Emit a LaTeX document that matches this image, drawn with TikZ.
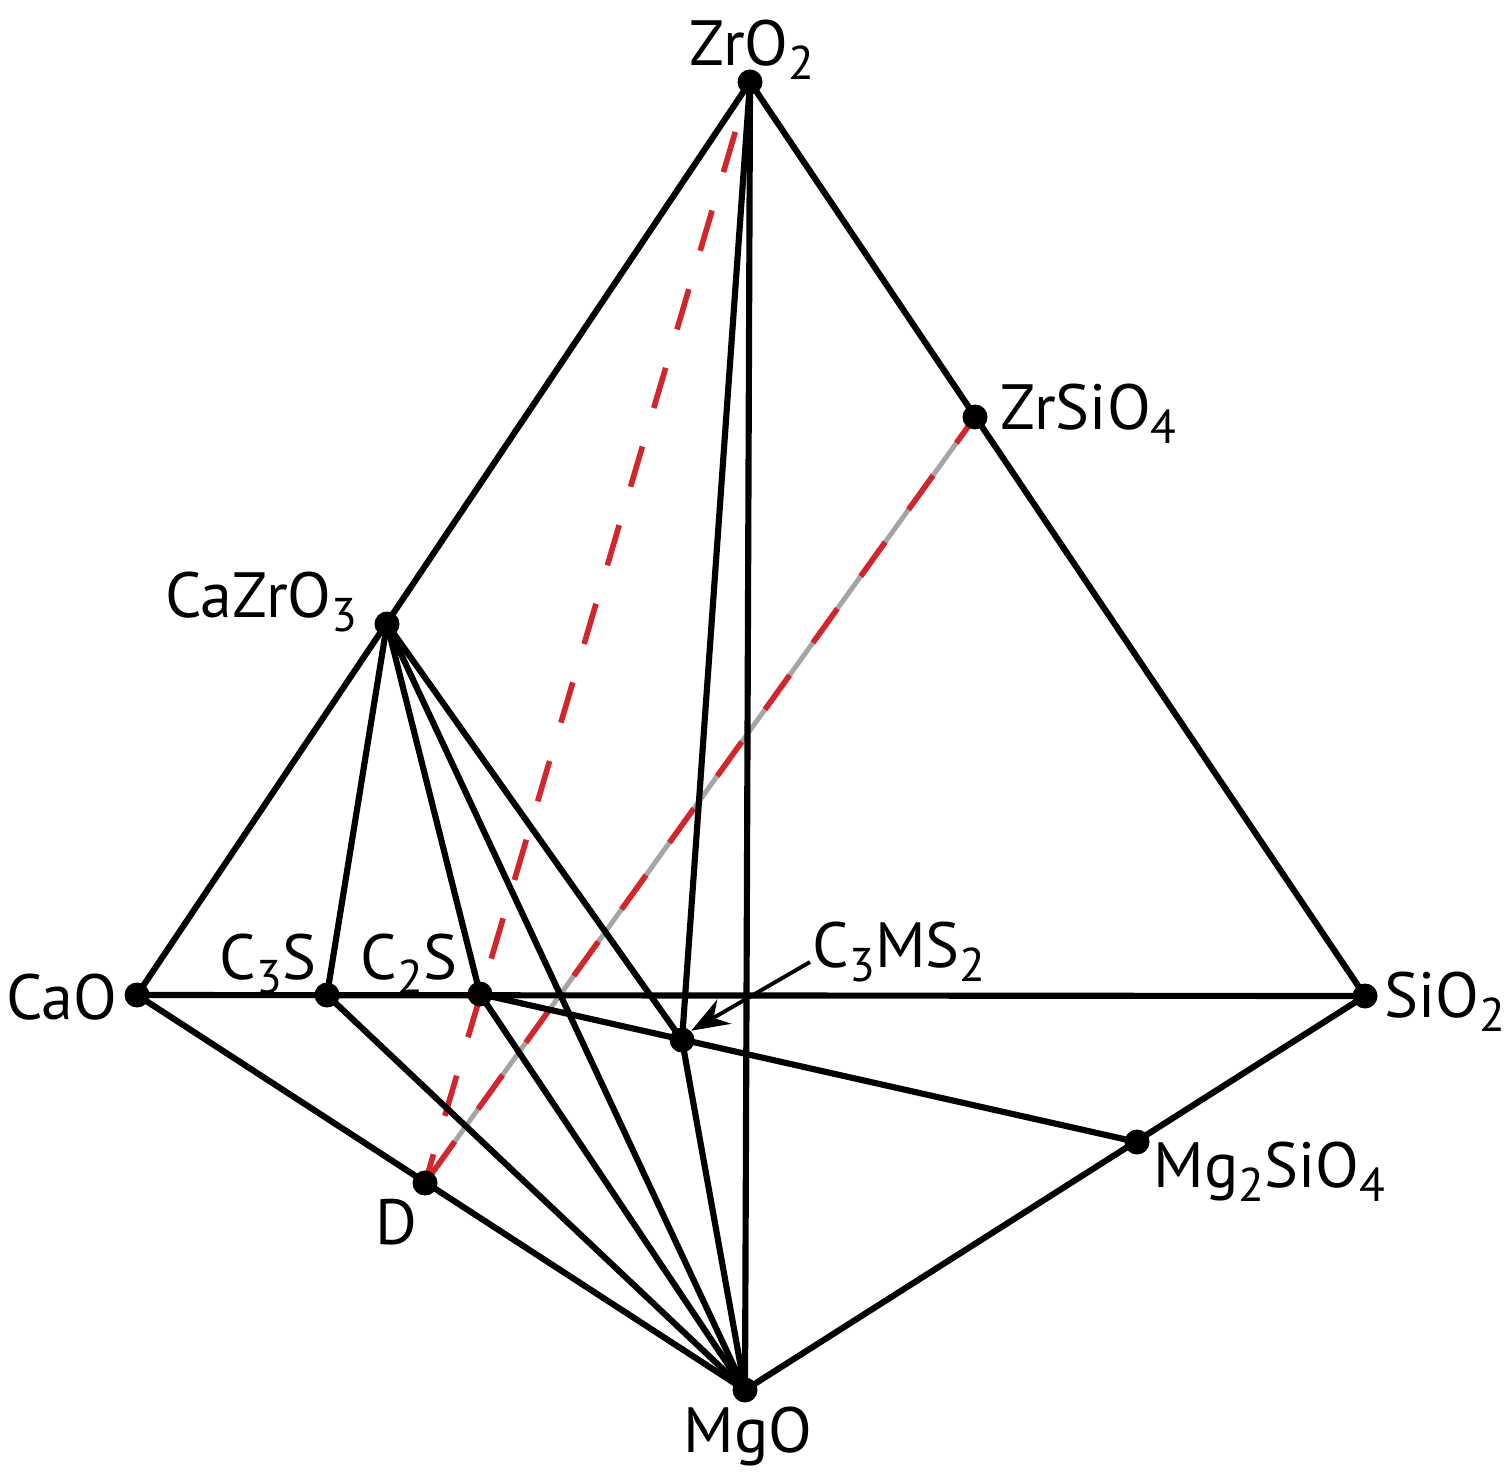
\documentclass[tikz,border=0pt]{standalone}
\usepackage{fontspec}
\setmainfont{PT Sans}
\usetikzlibrary{arrows.meta}
\definecolor{dred}{RGB}{211,38,44}
\definecolor{lgray}{RGB}{165,165,165}
\newcommand\sbs[1]{\raisebox{-0.45ex}{\scalebox{0.74}{#1}}}
\tikzset{
  edge/.style={line width=1.75pt, black},
  dot/.style={circle, fill=black, inner sep=0pt, minimum size=0.25cm},
  lbl/.style={font=\fontsize{18.2}{22}\selectfont, inner sep=0pt},
  reddash/.style={line width=1.6pt, dred, dash pattern=on 0.42cm off 0.4cm},
  graybase/.style={line width=1.4pt, lgray},
}
\begin{document}
\begin{tikzpicture}
\useasboundingbox (0,0) rectangle (15.08,14.80);
\coordinate (ZrO2) at (7.50,13.98);
\coordinate (ZrSiO4) at (9.75,10.63);
\coordinate (CaZrO3) at (3.87,8.56);
\coordinate (CaO) at (1.37,4.85);
\coordinate (C3S) at (3.27,4.85);
\coordinate (C2S) at (4.80,4.86);
\coordinate (C3MS2) at (6.82,4.40);
\coordinate (SiO2) at (13.65,4.84);
\coordinate (Mg2SiO4) at (11.37,3.38);
\coordinate (D) at (4.25,2.97);
\coordinate (MgO) at (7.45,0.90);

% dashed lines (behind)
\draw[graybase] (ZrSiO4) -- (D);
\draw[reddash, dash phase=0.1cm] (ZrSiO4) -- (D);
\draw[reddash, dash phase=0.3cm] (ZrO2) -- (D);

% solid lines
\draw[edge, line join=round] (CaO) -- (ZrO2) -- (SiO2) -- (CaO);
\draw[edge, line join=round] (CaO) -- (MgO) -- (SiO2);
\draw[edge] (ZrO2) -- (MgO);
\draw[edge] (ZrO2) -- (C3MS2) -- (MgO);
\draw[edge] (CaZrO3) -- (C3S);
\draw[edge] (CaZrO3) -- (C2S);
\draw[edge] (CaZrO3) -- (MgO);
\draw[edge] (CaZrO3) -- (C3MS2);
\draw[edge] (C3S) -- (MgO);
\draw[edge] (C2S) -- (MgO);
\draw[edge] (C2S) -- (Mg2SiO4);

% dots
\foreach \p in {ZrO2,ZrSiO4,CaZrO3,CaO,C3S,C2S,C3MS2,SiO2,Mg2SiO4,D,MgO}
  \node[dot] (n\p) at (\p) {};

% labels
\node[lbl] (tZrO2) at (7.52,14.30) {ZrO\sbs{2}};
\node[lbl, anchor=west] (tZrSiO4) at (10.00,10.66) {ZrSiO\sbs{4}};
\node[lbl, anchor=east] (tCaZrO3) at (3.58,8.78) {CaZrO\sbs{3}};
\node[lbl, anchor=east] (tCaO) at (1.18,4.83) {CaO};
\node[lbl] (tC3S) at (2.68,5.16) {C\sbs{3}S};
\node[lbl] (tC2S) at (4.09,5.16) {C\sbs{2}S};
\node[lbl, anchor=west] (tC3MS2) at (8.12,5.28) {C\sbs{3}MS\sbs{2}};
\node[lbl, anchor=east] (tSiO2) at (15.06,4.78) {SiO\sbs{2}};
\node[lbl, anchor=west] (tMg2SiO4) at (11.53,3.08) {Mg\sbs{2}SiO\sbs{4}};
\node[lbl] (tD) at (3.96,2.58) {D};
\node[lbl] (tMgO) at (7.48,0.44) {MgO};

% arrow
\coordinate (arrS) at (8.10,5.18);
\draw[line width=1.1pt, -{Stealth[length=0.38cm, width=0.28cm]}] (arrS) -- (nC3MS2.north east);
\end{tikzpicture}
\end{document}
